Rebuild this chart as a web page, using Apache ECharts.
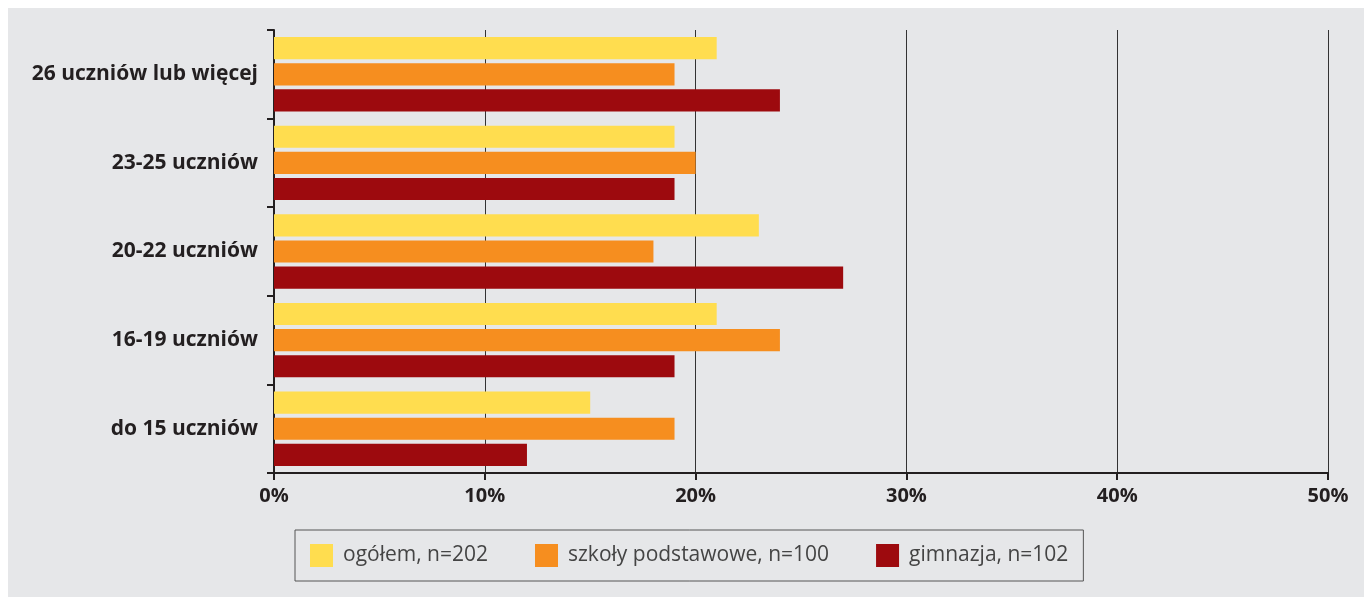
<!DOCTYPE html>
<html><head><meta charset="utf-8">
<script src="https://cdn.jsdelivr.net/npm/echarts@6/dist/echarts.min.js"></script>
<style>html,body{margin:0;padding:0;background:#fff}#c{width:1364px;height:597px}</style>
</head><body><div id="c"></div>
<script>
const categories = ['26 uczniów lub więcej', '23-25 uczniów', '20-22 uczniów', '16-19 uczniów', 'do 15 uczniów'];
const seriesNames = ['ogółem, n=202', 'szkoły podstawowe, n=100', 'gimnazja, n=102'];
const ogolem = [21, 19, 23, 21, 15];
const szkoly = [19, 20, 18, 24, 19];
const gimnazja = [24, 19, 27, 19, 12];
const colors = ['#ffdd4f', '#f68e1f', '#9d0a0e'];
const values = [ogolem, szkoly, gimnazja];

const chart = echarts.init(document.getElementById('c'), null, {renderer: 'canvas'});
chart.setOption({
  animation: false,
  graphic: [{type: 'rect', z: -10, shape: {x: 8, y: 8, width: 1356, height: 589}, style: {fill: '#e6e7e9'}, silent: true}],
  grid: {left: 274, right: 36, top: 30, bottom: 124},
  legend: {
    left: 295, top: 530,
    orient: 'horizontal',
    itemWidth: 23, itemHeight: 23, itemGap: 47,
    borderColor: '#555', borderWidth: 1,
    padding: [14, 15, 14, 15],
    icon: 'rect',
    textStyle: {fontFamily: 'Open Sans', fontSize: 21, color: '#444', padding: [0, 0, 0, 5]},
    data: seriesNames
  },
  xAxis: {
    type: 'value', min: 0, max: 50, interval: 10,
    axisLine: {show: true, lineStyle: {color: '#231f20', width: 2}},
    axisTick: {show: true, length: 7, lineStyle: {color: '#231f20', width: 2}},
    axisLabel: {formatter: '{value}%', fontFamily: 'Open Sans', fontWeight: 'bold', fontSize: 20, color: '#231f20', margin: 13},
    splitLine: {show: true, lineStyle: {color: '#333', width: 1}}
  },
  yAxis: {
    type: 'category', data: categories, inverse: true,
    axisLine: {show: true, lineStyle: {color: '#231f20', width: 2}},
    axisTick: {show: true, length: 7, lineStyle: {color: '#231f20', width: 2}},
    axisLabel: {fontFamily: 'Open Sans', fontWeight: 'bold', fontSize: 21, color: '#231f20', margin: 16}
  },
  series: seriesNames.map((n, i) => ({
    name: n, type: 'bar', data: values[i],
    itemStyle: {color: colors[i]},
    barCategoryGap: '16%', barGap: '18%'
  }))
});
</script></body></html>
